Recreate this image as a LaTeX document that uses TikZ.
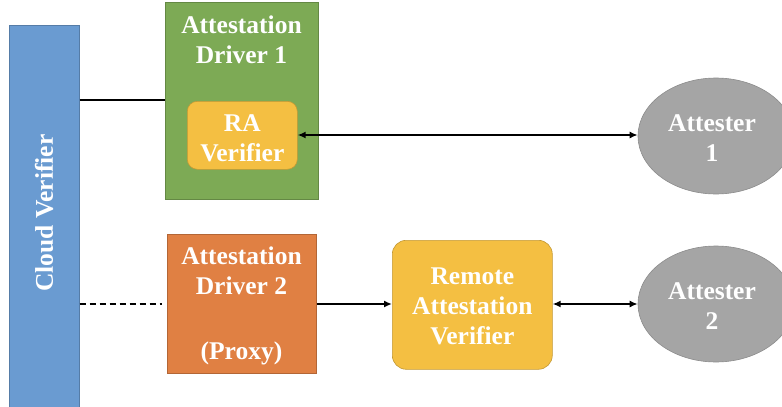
\documentclass[tikz,border=0pt]{standalone}
\usepackage{fontspec}
\setmainfont{Liberation Serif}
\usetikzlibrary{arrows.meta,shapes.geometric}
\definecolor{cvblue}{HTML}{6A9BD1}
\definecolor{drgreen}{HTML}{7DAA55}
\definecolor{drorange}{HTML}{E08043}
\definecolor{vyellow}{HTML}{F4BF42}
\definecolor{agray}{HTML}{A5A5A5}
\tikzset{
  lbl/.style={text=white,font=\bfseries\fontsize{25.5}{30}\selectfont,align=center},
  boxr/.style={draw=#1!80!black,fill=#1,line width=0.6pt,inner sep=0pt},
  conn/.style={line width=2pt},
  >={Latex[length=8pt,width=7pt]},
}
\begin{document}
\begin{tikzpicture}[x=1pt,y=-1pt]
\useasboundingbox (0,0) rectangle (782,407);
% Cloud verifier
\node[boxr=cvblue,minimum width=70pt,minimum height=384pt,anchor=north west] (cv) at (9,25) {};
\node[lbl,rotate=90] (cvt) at (44,213) {Cloud Verifier};
% Driver 1
\node[boxr=drgreen,minimum width=153pt,minimum height=197pt,anchor=north west] (d1) at (165,2) {};
\node[lbl,anchor=north] (d1t) at (241.5,12) {Attestation\\Driver 1};
\node[boxr=vyellow,rounded corners=10pt,minimum width=110pt,minimum height=68pt,anchor=north west] (ra) at (187,101) {};
\node[lbl] (rat) at ([yshift=-3pt]ra.center) {RA\\Verifier};
% Driver 2
\node[boxr=drorange,minimum width=149pt,minimum height=139pt,anchor=north west] (d2) at (167,234) {};
\node[lbl,anchor=north] (d2t) at (241.5,243) {Attestation\\Driver 2\\[5pt]\\(Proxy)};
% Remote attestation verifier
\node[boxr=vyellow,rounded corners=14pt,minimum width=160pt,minimum height=129pt,anchor=north west] (rav) at (392,240) {};
\node[lbl] (ravt) at ([yshift=-2pt]rav.center) {Remote\\Attestation\\Verifier};
% Attesters
\node[ellipse,draw=agray!85!black,fill=agray,line width=0.6pt,minimum width=156pt,minimum height=116pt,inner sep=0pt] (a1) at (716,136) {};
\node[lbl] (a1t) at (712,138.5) {Attester\\1};
\node[ellipse,draw=agray!85!black,fill=agray,line width=0.6pt,minimum width=156pt,minimum height=116pt,inner sep=0pt] (a2) at (716,304) {};
\node[lbl] (a2t) at (712,306.5) {Attester\\2};
% connectors
\coordinate (dashend) at (162,304);
\draw[conn] (cv.east |- 0,100) -- (d1.west |- 0,100);
\draw[conn,<->] (ra.east |- 0,135) -- (a1.west |- 0,135);
\draw[conn,dash pattern=on 6pt off 4pt,line width=1.8pt] (cv.east |- dashend) -- (dashend);
\draw[conn,->] (d2.east |- 0,304) -- (rav.west |- 0,304);
\draw[conn,<->] (rav.east |- 0,304) -- (a2.west |- 0,304);
\end{tikzpicture}
\end{document}
